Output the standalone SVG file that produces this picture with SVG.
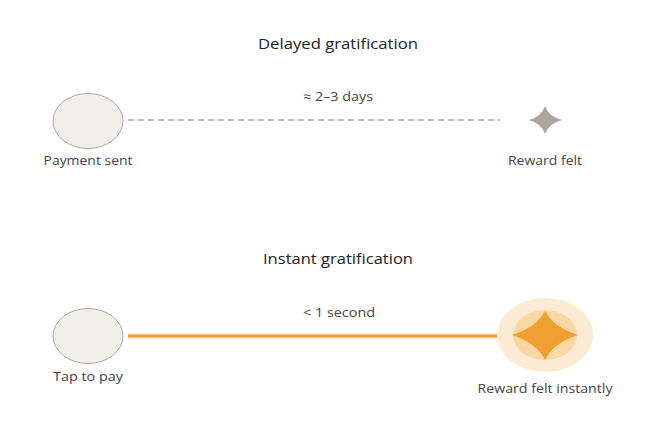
<svg xmlns="http://www.w3.org/2000/svg" width="663" height="425" viewBox="0 0 663 425">
<style>
.title{font-family:"Open Sans","Liberation Sans",sans-serif;font-size:15px;fill:#222;text-anchor:middle}
.lbl{font-family:"Open Sans","Liberation Sans",sans-serif;font-size:12.5px;fill:#444;text-anchor:middle}
.node{fill:#f1efea;stroke:#9a968e;stroke-width:0.8}
</style>
<rect width="663" height="425" fill="#ffffff"/>
<text class="title" x="338" y="49" textLength="160" lengthAdjust="spacingAndGlyphs">Delayed gratification</text>
<text class="title" x="338" y="264" textLength="150" lengthAdjust="spacingAndGlyphs">Instant gratification</text>
<g id="connectors">
<line x1="128" y1="120" x2="500" y2="120" stroke="#a9a6a0" stroke-width="1.3" stroke-dasharray="6,4"/>
<text class="lbl" x="338" y="101" textLength="70" lengthAdjust="spacingAndGlyphs">≈ 2–3 days</text>
<line x1="128" y1="336" x2="500" y2="336" stroke="#fbd9a6" stroke-width="5"/>
<line x1="128" y1="336" x2="500" y2="336" stroke="#ef9d2a" stroke-width="2.5"/>
<text class="lbl" x="339" y="317" textLength="72" lengthAdjust="spacingAndGlyphs">&lt; 1 second</text>
</g>
<g id="payment-sent">
<ellipse class="node" cx="88" cy="121" rx="35" ry="27.5"/>
<text class="lbl" x="88" y="165" textLength="89" lengthAdjust="spacingAndGlyphs">Payment sent</text>
</g>
<g id="reward-felt">
<path d="M545 106 Q548.5 116.5 562 120 Q548.5 123.5 545 134 Q541.5 123.5 529 120 Q541.5 116.5 545 106 Z" fill="#a9a69e"/>
<text class="lbl" x="545" y="165" textLength="74" lengthAdjust="spacingAndGlyphs">Reward felt</text>
</g>
<g id="tap-to-pay">
<ellipse class="node" cx="88" cy="336" rx="35" ry="27.5"/>
<text class="lbl" x="88" y="381" textLength="70" lengthAdjust="spacingAndGlyphs">Tap to pay</text>
</g>
<g id="reward-instant">
<ellipse cx="545" cy="335" rx="48" ry="37" fill="#fdebd3"/>
<ellipse cx="545" cy="335" rx="32" ry="25" fill="#fad7a4"/>
<path d="M545 311 Q553 327 578 335 Q553 343 545 360 Q537 343 512 335 Q537 327 545 311 Z" fill="#f0a030"/>
<text class="lbl" x="545" y="393" textLength="135" lengthAdjust="spacingAndGlyphs">Reward felt instantly</text>
</g>
</svg>
